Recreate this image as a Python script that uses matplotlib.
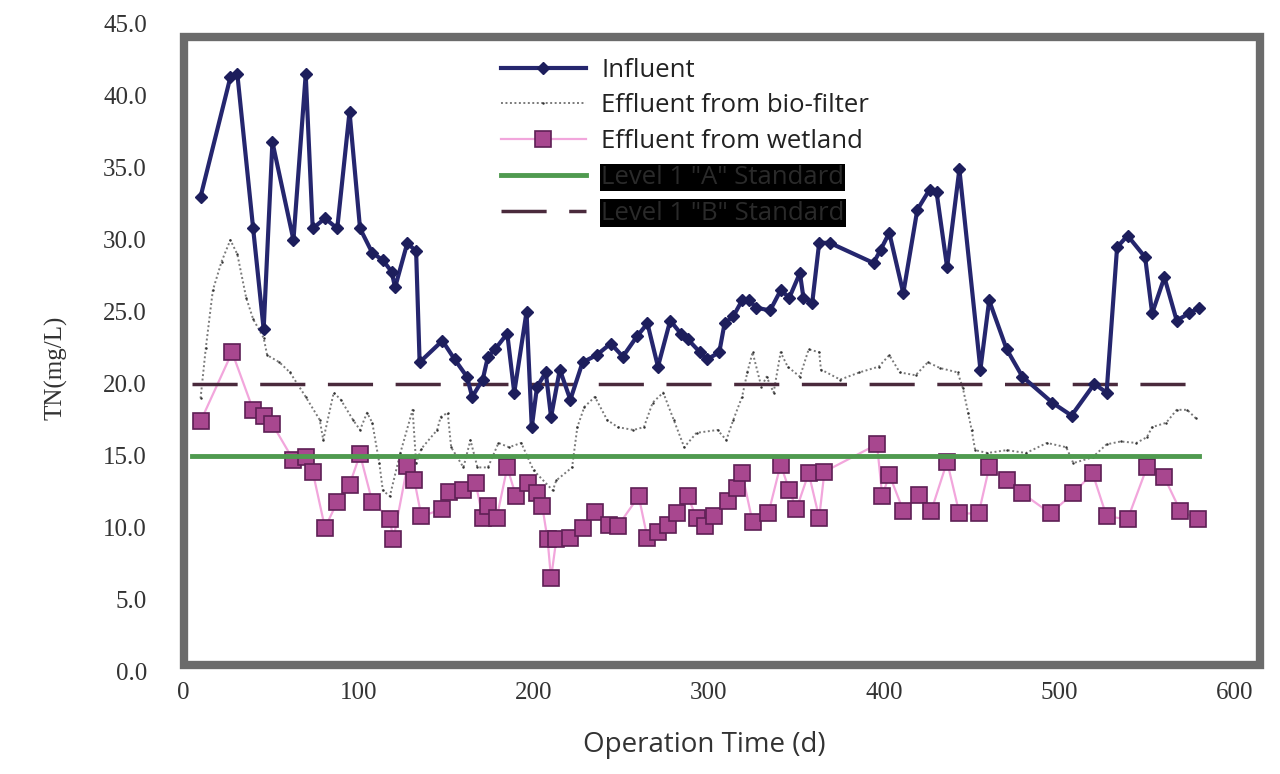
import matplotlib
matplotlib.use("Agg")
import matplotlib.pyplot as plt
from matplotlib.patches import Rectangle

# TN over operation time (d)
influent_days = [10, 27, 31, 40, 46, 51, 63, 70, 74, 81, 88, 95, 101, 108, 114, 119,
                 121, 128, 133, 135, 148, 155, 162, 165, 171, 174, 178, 185, 189, 196,
                 199, 202, 207, 210, 215, 221, 228, 236, 244, 251, 259, 265, 271, 278,
                 284, 288, 295, 299, 306, 309, 314, 319, 323, 327, 335, 341, 346, 352,
                 354, 359, 363, 369, 394, 398, 403, 411, 419, 426, 430, 436, 443, 455,
                 460, 470, 479, 496, 507, 520, 527, 533, 539, 549, 553, 560, 567, 574, 580]
influent_tn = [33.0, 41.3, 41.5, 30.8, 23.8, 36.8, 30.0, 41.5, 30.8, 31.5, 30.8, 38.9,
               30.8, 29.1, 28.6, 27.8, 26.7, 29.8, 29.2, 21.5, 23.0, 21.7, 20.5, 19.1,
               20.3, 21.9, 22.4, 23.5, 19.4, 25.0, 17.0, 19.8, 20.8, 17.7, 21.0, 18.9,
               21.5, 22.0, 22.8, 21.9, 23.3, 24.2, 21.2, 24.4, 23.5, 23.1, 22.2, 21.7,
               22.2, 24.2, 24.7, 25.8, 25.8, 25.3, 25.1, 26.5, 26.0, 27.7, 26.0, 25.6,
               29.8, 29.8, 28.4, 29.3, 30.5, 26.3, 32.1, 33.5, 33.3, 28.1, 34.9, 21.0,
               25.8, 22.4, 20.5, 18.7, 17.8, 20.0, 19.4, 29.5, 30.3, 28.8, 24.9, 27.4,
               24.4, 24.9, 25.3]

biofilter_days = [10, 13, 17, 22, 27, 31, 36, 40, 46, 48, 55, 61, 70, 78, 80, 86, 90,
                  97, 101, 105, 108, 112, 114, 118, 124, 131, 133, 136, 145, 147, 151,
                  153, 160, 164, 168, 174, 180, 186, 193, 200, 211, 213, 222, 225, 229,
                  235, 242, 248, 257, 263, 268, 274, 280, 286, 293, 305, 310, 314, 319,
                  322, 325, 330, 333, 337, 341, 345, 352, 357, 363, 364, 375, 386, 397,
                  403, 409, 418, 425, 432, 442, 445, 448, 450, 452, 459, 470, 481, 493,
                  504, 508, 519, 527, 535, 544, 550, 553, 561, 567, 573, 578]
biofilter_tn = [19.0, 22.5, 26.5, 28.5, 30.0, 29.0, 26.0, 24.5, 23.2, 22.0, 21.5, 20.8,
                19.1, 17.5, 16.1, 19.4, 18.9, 17.5, 16.8, 18.0, 17.3, 14.5, 12.6, 12.2,
                15.2, 18.2, 14.5, 15.5, 16.8, 17.7, 18.0, 15.6, 14.2, 16.1, 14.2, 14.2,
                15.9, 15.6, 15.9, 14.0, 12.6, 13.3, 14.2, 17.0, 18.4, 19.1, 17.5, 17.0,
                16.8, 17.0, 18.7, 19.4, 17.5, 15.6, 16.6, 16.8, 16.1, 17.5, 19.1, 20.8,
                22.2, 19.8, 20.5, 19.4, 22.2, 21.2, 20.5, 22.4, 22.2, 21.0, 20.3, 20.8,
                21.2, 22.0, 20.8, 20.6, 21.5, 21.1, 20.8, 19.7, 18.0, 16.8, 15.4, 15.2,
                15.4, 15.2, 15.9, 15.6, 14.5, 14.9, 15.8, 16.0, 15.9, 16.3, 17.0, 17.3,
                18.2, 18.2, 17.6]

wetland_days = [10, 28, 40, 46, 51, 63, 70, 74, 81, 88, 95, 101, 108, 118, 120, 128,
                132, 136, 148, 152, 160, 167, 171, 174, 179, 185, 190, 197, 202, 205,
                208, 210, 213, 221, 228, 235, 243, 248, 260, 265, 271, 277, 282, 288,
                293, 298, 303, 311, 316, 319, 325, 334, 341, 346, 350, 357, 363, 366,
                396, 399, 403, 411, 420, 427, 436, 443, 454, 460, 470, 479, 495, 508,
                519, 527, 539, 550, 560, 569, 579]
wetland_tn = [17.4, 22.2, 18.2, 17.8, 17.2, 14.7, 14.9, 13.9, 10.0, 11.8, 13.0, 15.1,
              11.8, 10.6, 9.2, 14.3, 13.3, 10.8, 11.3, 12.5, 12.6, 13.1, 10.7, 11.5,
              10.7, 14.2, 12.2, 13.1, 12.4, 11.5, 9.2, 6.5, 9.2, 9.3, 10.0, 11.1, 10.2,
              10.1, 12.2, 9.3, 9.7, 10.2, 11.0, 12.2, 10.7, 10.1, 10.8, 11.9, 12.8,
              13.8, 10.4, 11.0, 14.4, 12.6, 11.3, 13.8, 10.7, 13.9, 15.8, 12.2, 13.7,
              11.2, 12.3, 11.2, 14.6, 11.0, 11.0, 14.2, 13.3, 12.4, 11.0, 12.4, 13.8,
              10.8, 10.6, 14.2, 13.5, 11.2, 10.6]

std_days = [5, 580]
level_a = [15.0, 15.0]
level_b = [20.0, 20.0]

x_ticks = [0, 100, 200, 300, 400, 500, 600]
y_ticks = [0, 5, 10, 15, 20, 25, 30, 35, 40, 45]

fig = plt.figure(figsize=(12.8, 7.74), dpi=100)
ax = fig.add_axes([0.143, 0.132, 0.842, 0.837])

ax.plot(biofilter_days, biofilter_tn, color="#7a7a7a", lw=1.4, ls=(0, (1, 1.3)),
        marker=".", ms=3.5, mfc="#333333", mec="none", zorder=2,
        label="Effluent from bio-filter")
ax.plot(wetland_days, wetland_tn, color="#f2a6dc", lw=1.6, marker="s", ms=11,
        mfc="#a8478f", mec="#5e1f55", mew=1.2, zorder=3,
        label="Effluent from wetland")
ax.plot(std_days, level_a, color="#4f9a4f", lw=3.5, zorder=4,
        label='Level 1 "A" Standard')
ax.plot(std_days, level_b, color="#4a2a3c", lw=2.5, dashes=(13, 6.5), zorder=4,
        label='Level 1 "B" Standard')
ax.plot(influent_days, influent_tn, color="#25266e", lw=3, marker="D", ms=6,
        mfc="#1d1e5c", mec="#1d1e5c", zorder=5, label="Influent")

ax.set_xlim(0, 615)
ax.set_ylim(0, 45)
ax.set_xticks(x_ticks)
ax.set_yticks(y_ticks)
ax.set_yticklabels([f"{v:.1f}" for v in y_ticks])
ax.tick_params(length=0, labelsize=18, colors="#333333")
ax.tick_params(axis="y", pad=26)
ax.tick_params(axis="x", pad=7)
for lab in ax.get_xticklabels() + ax.get_yticklabels():
    lab.set_family("Liberation Serif")
for sp in ax.spines.values():
    sp.set_visible(False)

# thick gray plot-area border
ax.add_patch(Rectangle((0.6, 0.5), 614, 43.6, transform=ax.transData, fill=False,
                       edgecolor="#6b6b6b", lw=6, clip_on=False, zorder=1))

ax.set_ylabel("TN(mg/L)", family="Liberation Serif", fontsize=18, color="#333333")
ax.yaxis.set_label_coords(-0.107, 0.47)
ax.set_xlabel("Operation Time (d)", family="Open Sans", fontsize=20, color="#333333")
ax.xaxis.set_label_coords(0.484, -0.092)

handles, labels = ax.get_legend_handles_labels()
order = [4, 0, 1, 2, 3]
leg = ax.legend([handles[i] for i in order], [labels[i] for i in order],
                loc="upper left", bbox_to_anchor=(0.283, 0.968), frameon=False,
                prop={"family": "Open Sans", "size": 18.5}, handlelength=3.3,
                handletextpad=0.6, labelspacing=0.42, borderpad=0)
for t in leg.get_texts():
    t.set_color("#222222")
for t in leg.get_texts()[3:]:
    t.set_color("#2a2a2a")
    t.set_bbox(dict(facecolor="black", edgecolor="none", pad=1))

fig.savefig("out.png", dpi=100, facecolor="white")
